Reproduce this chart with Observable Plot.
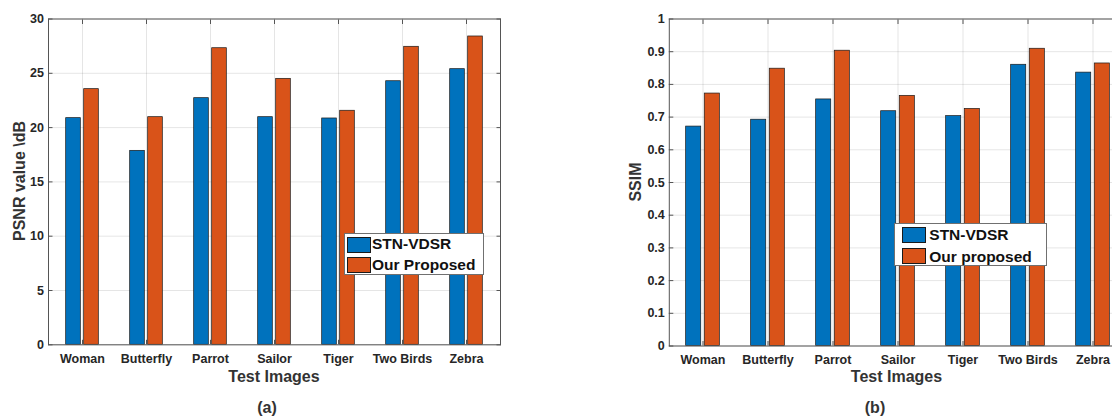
<!DOCTYPE html>
<html><head><meta charset="utf-8">
<script src="https://cdn.jsdelivr.net/npm/d3@7"></script>
<script src="https://cdn.jsdelivr.net/npm/@observablehq/plot@0.6"></script>
<style>
html,body{margin:0;padding:0;background:#fff;overflow:hidden;}
#root{position:relative;width:1112px;height:417px;overflow:hidden;font-family:"Liberation Sans",Arial,sans-serif;font-weight:bold;color:#333;}
.panel{position:absolute;top:0;}
.ylab{position:absolute;transform:translate(-50%,-50%) rotate(-90deg);white-space:nowrap;font-size:16px;line-height:1;color:#333;}
.xlab{position:absolute;transform:translateX(-50%);white-space:nowrap;font-size:16px;line-height:1;color:#333;}
.legend{position:absolute;background:#fff;border:1px solid #707070;box-sizing:border-box;}
.sw{position:absolute;border:1px solid #1a1a1a;box-sizing:border-box;}
.lt{position:absolute;font-size:15.5px;line-height:1;color:#111;white-space:nowrap;}
</style></head><body><div id="root"></div>
<script>
// ---- data ----
const categories = ["Woman", "Butterfly", "Parrot", "Sailor", "Tiger", "Two Birds", "Zebra"];
const psnrSTN  = [20.87, 17.86, 22.71, 20.96, 20.84, 24.27, 25.38];
const psnrOurs = [23.54, 20.96, 27.31, 24.49, 21.55, 27.44, 28.39];
const ssimSTN  = [0.671, 0.692, 0.754, 0.718, 0.703, 0.860, 0.836];
const ssimOurs = [0.772, 0.848, 0.903, 0.765, 0.725, 0.909, 0.864];
const seriesA = ["STN-VDSR", "Our Proposed"];
const seriesB = ["STN-VDSR", "Our proposed"];
const psnrTicks = [0, 5, 10, 15, 20, 25, 30];
const psnrTickLabels = ["0", "5", "10", "15", "20", "25", "30"];
const ssimTicks = [0, 0.1, 0.2, 0.3, 0.4, 0.5, 0.6, 0.7, 0.8, 0.9, 1];
const ssimTickLabels = ["0", "0.1", "0.2", "0.3", "0.4", "0.5", "0.6", "0.7", "0.8", "0.9", "1"];
const colors = ["#0072BD", "#D95319"];

const root = document.getElementById("root");

function panel(cfg) {
  const rows = categories.map((c, i) => ({cat: c, a: cfg.s1[i], b: cfg.s2[i]}));
  const bw = (cfg.width - cfg.ml - cfg.mr) / categories.length;
  const half = bw / 2;
  const g = cfg.gap, w = cfg.barW;
  const fmt = d => cfg.labels[cfg.ticks.indexOf(d)];
  const common = {stroke: "#1a1a1a", strokeWidth: 0.7};
  const svg = Plot.plot({
    width: cfg.width, height: 417,
    marginLeft: cfg.ml, marginRight: cfg.mr, marginTop: cfg.mt, marginBottom: 417 - cfg.bottom,
    style: {fontFamily: '"Liberation Sans", Arial, sans-serif', fontWeight: "bold", fontSize: "12.5px", background: "transparent", color: "#262626"},
    x: {type: "band", domain: categories, padding: 0, label: null},
    y: {domain: cfg.domain, label: null},
    marks: [
      Plot.gridY(cfg.ticks, {stroke: "#000", strokeOpacity: 0.1}),
      Plot.gridX(categories, {stroke: "#000", strokeOpacity: 0.1}),
      Plot.barY(rows, {x: "cat", y: "a", fill: colors[0], ...common, insetLeft: half - g - w, insetRight: half + g}),
      Plot.barY(rows, {x: "cat", y: "b", fill: colors[1], ...common, insetLeft: half + g, insetRight: half - g - w}),
      Plot.frame({stroke: "#555", strokeWidth: 1}),
      Plot.axisY(cfg.ticks, {anchor: "left", tickSize: -4.5, tickPadding: 9, tickFormat: fmt, label: null, fontSize: 12.5, stroke: "#555", fill: "#262626"}),
      Plot.axisY(cfg.ticks, {anchor: "right", tickSize: -4.5, tickFormat: () => "", label: null, stroke: "#555"}),
      Plot.axisX(categories, {anchor: "bottom", tickSize: -4.5, tickPadding: 14, label: null, fontSize: 12.5, stroke: "#555", fill: "#262626"}),
      Plot.axisX(categories, {anchor: "top", tickSize: -4.5, tickFormat: () => "", label: null, stroke: "#555"})
    ]
  });
  svg.classList.add("panel");
  svg.style.left = cfg.left + "px";
  svg.style.overflow = "hidden";
  root.appendChild(svg);

  const yl = document.createElement("div");
  yl.className = "ylab"; yl.textContent = cfg.ylabel;
  yl.style.left = cfg.ylabX + "px"; yl.style.top = ((cfg.mt + cfg.bottom) / 2) + "px";
  root.appendChild(yl);

  const xl = document.createElement("div");
  xl.className = "xlab"; xl.textContent = "Test Images";
  xl.style.left = cfg.xlabX + "px"; xl.style.top = "369px";
  root.appendChild(xl);

  const cap = document.createElement("div");
  cap.className = "xlab"; cap.textContent = cfg.caption;
  cap.style.left = cfg.capX + "px"; cap.style.top = "400px";
  root.appendChild(cap);

  const L = cfg.legend;
  const box = document.createElement("div");
  box.className = "legend";
  Object.assign(box.style, {left: L.x + "px", top: L.y + "px", width: L.w + "px", height: L.h + "px"});
  root.appendChild(box);
  cfg.names.forEach((n, i) => {
    const s = document.createElement("div");
    s.className = "sw";
    Object.assign(s.style, {left: L.swX + "px", top: L.swY[i] + "px", width: L.swW + "px", height: L.swH + "px", background: colors[i]});
    root.appendChild(s);
    const t = document.createElement("div");
    t.className = "lt"; t.textContent = n;
    Object.assign(t.style, {left: L.tX + "px", top: (L.base[i] - 13.1) + "px"});
    root.appendChild(t);
  });
}

panel({
  left: 0, width: 540, ml: 48, mr: 540 - 500, mt: 18.5, bottom: 344.3,
  domain: [0, 30], ticks: psnrTicks, labels: psnrTickLabels,
  s1: psnrSTN, s2: psnrOurs, gap: 1.4, barW: 15.2,
  ylabel: "PSNR value \\dB", ylabX: 19.5, xlabX: 274, caption: "(a)", capX: 267,
  names: seriesA,
  legend: {x: 344, y: 233.3, w: 140, h: 42, swX: 346.5, swY: [237, 256.5], swW: 24.5, swH: 16, tX: 372, base: [249, 270]}
});

panel({
  left: 560, width: 566, ml: 108.8, mr: 0, mt: 18.5, bottom: 345.5,
  domain: [0, 1], ticks: ssimTicks, labels: ssimTickLabels,
  s1: ssimSTN, s2: ssimOurs, gap: 1.6, barW: 15.4,
  ylabel: "SSIM", ylabX: 635.7, xlabX: 896.5, caption: "(b)", capX: 875,
  names: seriesB,
  legend: {x: 894, y: 223, w: 152.5, h: 42.5, swX: 902, swY: [226.7, 247.5], swW: 24, swH: 16.3, tX: 929.3, base: [240, 261.7]}
});
</script></body></html>
